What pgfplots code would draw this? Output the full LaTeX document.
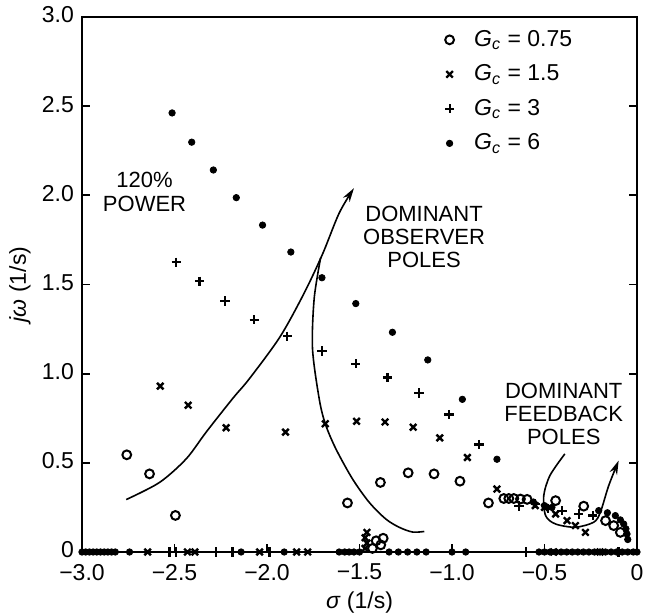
\documentclass[border=0pt]{standalone}
\usepackage{fontspec}
\setmainfont{Liberation Sans}
\usepackage{pgfplots}
\pgfplotsset{compat=1.18}
\usetikzlibrary{arrows.meta}

\begin{document}
\fontsize{11.5}{13.5}\selectfont
\begin{tikzpicture}
\useasboundingbox (-41pt,-30.5pt) rectangle (282pt,276pt);
\begin{axis}[
    scale only axis,
    width=277.5pt,
    height=267.5pt,
    xmin=-3, xmax=0,
    ymin=0, ymax=3,
    clip=false,
    axis line style={line width=0.9pt},
    xtick={-3,-2.5,-2,-1.5,-1,-0.5,0},
    xticklabels={−3.0,−2.5,−2.0,−1.5,−1.0,−0.5,0},
    ytick={0,0.5,1,1.5,2,2.5,3},
    yticklabels={0,0.5,1.0,1.5,2.0,2.5,3.0},
    xtick pos=left,
    ytick pos=both,
    tick align=inside,
    major tick length=4pt,
    tick style={line width=0.9pt, black},
    x tick label style={yshift=-2pt},
    y tick label style={yshift=1pt},
    xlabel={\textit{σ} (1/s)},
    ylabel={\textit{jω} (1/s)},
    every axis x label/.style={at={(axis description cs:0.5,0)}, yshift=-25.5pt, anchor=center},
    every axis y label/.style={at={(axis description cs:0,0.5)}, xshift=-31pt, rotate=90, anchor=center},
    legend style={draw=none, fill=none, at={(axis cs:-1.04,2.94)}, anchor=north west,
        row sep=5.5pt, inner sep=0pt, nodes={inner sep=1pt},
        /tikz/every odd column/.style={column sep=9pt}},
    legend cell align=left,
    legend image code/.code={\draw[#1] plot coordinates {(0pt,0pt)};},
]
% G_c = 0.75
\addplot[only marks, mark=o, mark size=2.2pt, line width=1pt] coordinates {
(-2.758,0.545) (-2.635,0.438) (-2.495,0.205) (-1.565,0.275) (-1.387,0.39)
(-1.237,0.444) (-1.097,0.438) (-0.957,0.397) (-0.803,0.275) (-0.72,0.30)
(-0.693,0.30) (-0.666,0.30) (-0.63,0.297) (-0.594,0.295) (-0.44,0.288)
(-0.288,0.257) (-0.17,0.176) (-0.126,0.148) (-0.09,0.11)
(-1.41,0.063) (-1.385,0.04) (-1.372,0.077) (-1.43,0.02)
};
\addlegendentry{\textit{G}\textsubscript{\textit{c}} = 0.75}
% G_c = 1.5
\addplot[only marks, mark=x, mark size=2.3pt, line width=1.2pt] coordinates {
(-2.577,0.93) (-2.426,0.823) (-2.221,0.697) (-1.90,0.672) (-1.685,0.719)
(-1.516,0.733) (-1.362,0.729) (-1.21,0.70) (-1.066,0.64) (-0.917,0.53)
(-0.757,0.353) (-0.55,0.26) (-0.50,0.25) (-0.44,0.213) (-0.378,0.176)
(-0.333,0.148) (-0.279,0.11)
(-2.645,0) (-2.43,0) (-2.39,0) (-2.04,0) (-1.84,0) (-1.78,0)
(-1.47,0.02) (-1.46,0.05) (-1.47,0.08) (-1.46,0.11) (-0.45,0) (-0.2,0)
};
\addlegendentry{\textit{G}\textsubscript{\textit{c}} = 1.5}
% G_c = 3
\addplot[only marks, mark=+, mark size=2.3pt, line width=1.1pt] coordinates {
(-2.491,1.625) (-2.365,1.519) (-2.227,1.408) (-2.069,1.302) (-1.89,1.21)
(-1.703,1.127) (-1.52,1.056) (-1.349,0.978) (-1.178,0.891) (-1.016,0.771)
(-0.854,0.603) (-0.638,0.258) (-0.55,0.27) (-0.48,0.245) (-0.405,0.232)
(-0.315,0.213) (-0.24,0.205)
(-2.527,0) (-2.49,0) (-2.275,0) (-2.187,0) (-1.987,0) (-0.602,0) (-0.1,0)
};
\addlegendentry{\textit{G}\textsubscript{\textit{c}} = 3}
% G_c = 6
\addplot[only marks, mark=*, mark size=1.6pt] coordinates {
(-2.513,2.462) (-2.407,2.298) (-2.29,2.142) (-2.166,1.987) (-2.024,1.833)
(-1.871,1.682) (-1.703,1.538) (-1.52,1.393) (-1.322,1.232) (-1.131,1.077)
(-0.944,0.856) (-0.757,0.52) (-0.56,0.28) (-0.5,0.26) (-0.46,0.25)
(-0.207,0.232) (-0.16,0.22) (-0.117,0.204) (-0.09,0.18) (-0.072,0.157)
(-0.06,0.13) (-0.054,0.101) (-0.05,0.07)
(-3.0,0) (-2.98,0) (-2.96,0) (-2.94,0) (-2.92,0) (-2.90,0) (-2.88,0) (-2.86,0) (-2.84,0) (-2.82,0)
(-2.743,0) (-2.14,0) (-1.907,0) (-1.61,0) (-1.58,0) (-1.556,0) (-1.53,0) (-1.50,0)
(-1.34,0) (-1.29,0) (-1.24,0) (-1.19,0) (-1.14,0) (-1.0,0) (-0.926,0)
(-0.53,0) (-0.50,0) (-0.47,0) (-0.44,0) (-0.41,0) (-0.38,0) (-0.35,0) (-0.32,0) (-0.29,0)
(-0.26,0) (-0.23,0) (-0.20,0) (-0.17,0) (-0.14,0) (-0.11,0) (-0.08,0) (-0.05,0) (-0.02,0) (0,0)
};
\addlegendentry{\textit{G}\textsubscript{\textit{c}} = 6}

% annotation curves
\addplot[smooth, line width=0.8pt, -{Stealth[length=7pt,width=4pt]}, forget plot] coordinates {
(-2.761,0.294) (-2.581,0.39) (-2.437,0.522) (-2.329,0.672) (-2.186,0.86)
(-2.095,0.972) (-1.93,1.206) (-1.80,1.45) (-1.70,1.67) (-1.61,1.90) (-1.53,2.04)
};
\addplot[smooth, line width=0.8pt, forget plot] coordinates {
(-1.71,1.65) (-1.745,1.421) (-1.754,1.14) (-1.718,0.86) (-1.685,0.719)
(-1.628,0.579) (-1.538,0.41) (-1.448,0.279) (-1.358,0.185) (-1.286,0.139)
(-1.214,0.112) (-1.15,0.115)
};
\addplot[smooth, line width=0.8pt, -{Stealth[length=7pt,width=4pt]}, forget plot] coordinates {
(-0.39,0.55) (-0.47,0.43) (-0.504,0.316) (-0.494,0.204) (-0.44,0.157)
(-0.333,0.139) (-0.234,0.167) (-0.198,0.223) (-0.153,0.372) (-0.099,0.513)
};

\node[align=center, font=\fontsize{11}{11.7}\selectfont] at (axis cs:-2.662,2.02) {120\%\\POWER};
\node[align=center, font=\fontsize{11}{11.5}\selectfont] at (axis cs:-1.151,1.767) {DOMINANT\\OBSERVER\\POLES};
\node[align=center, font=\fontsize{11}{11.5}\selectfont] at (axis cs:-0.396,0.775) {DOMINANT\\FEEDBACK\\POLES};
\end{axis}
\end{tikzpicture}
\end{document}
